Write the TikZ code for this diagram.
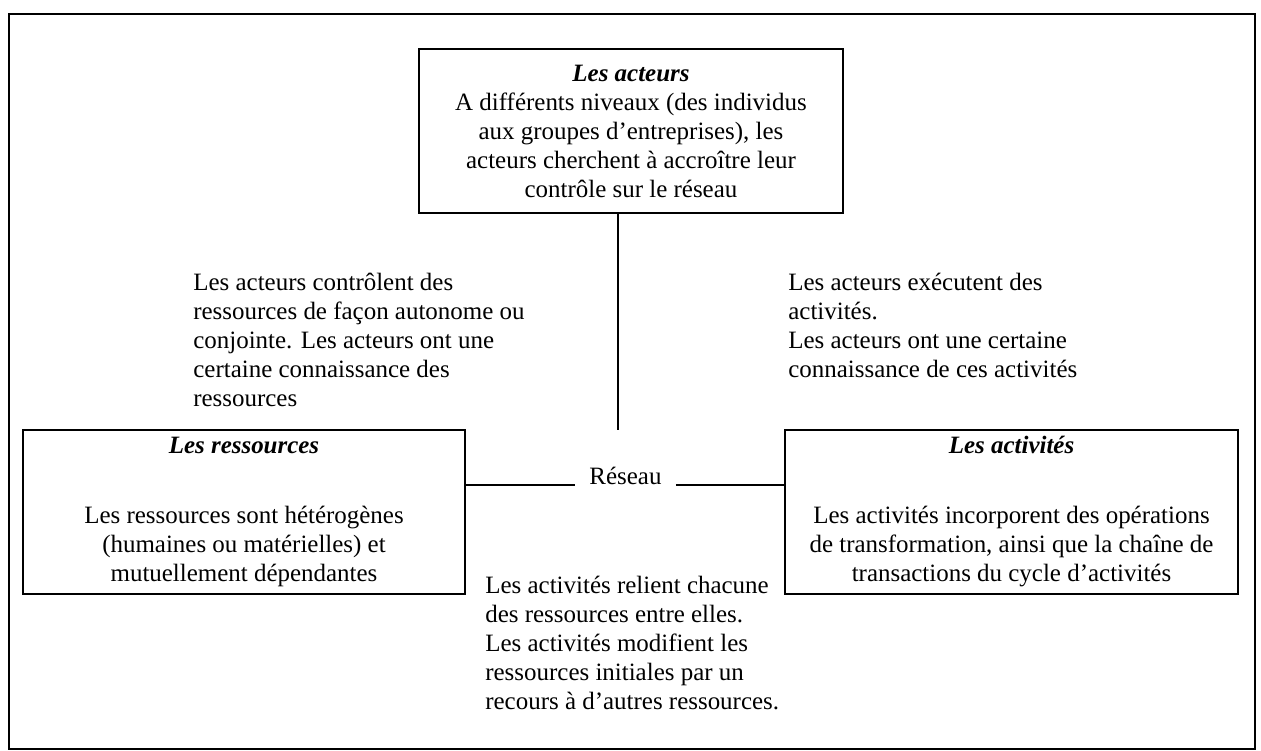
\documentclass[tikz,border=0pt]{standalone}
\usepackage{fontspec}
\setmainfont{Liberation Serif}
\usepackage{tikz}
\usetikzlibrary{calc,positioning}
\newcommand{\boxthick}{1.3pt}
\newcommand{\linethick}{1.1pt}
\newcommand{\txt}{\fontsize{14.2}{16.5}\selectfont}

\begin{document}
\begin{tikzpicture}[
        bloc/.style={draw, line width=\boxthick, align=center, inner sep=0pt, font=\txt},
        note/.style={align=left, inner sep=0pt, font=\txt}
    ]
    \useasboundingbox (0,0) rectangle (25.22,15.02);

    %Cadre
    \draw[line width=\boxthick] (0.174,0.04) rectangle (25.10,14.74);

    %Blocs
    \node[bloc, minimum width=8.48cm, minimum height=3.28cm] (acteurs) at (12.62,12.40)
        {\textbf{\textit{Les acteurs}}\\ A différents niveaux (des individus\\ aux groupes d’entreprises), les\\ acteurs cherchent à accroître leur\\ contrôle sur le réseau};
    \node[bloc, minimum width=8.84cm, minimum height=3.28cm] (ressources) at (4.88,4.78)
        {\textbf{\textit{Les ressources}}\\[0.82cm] Les ressources sont hétérogènes\\ (humaines ou matérielles) et\\ mutuellement dépendantes};
    \node[bloc, minimum width=9.06cm, minimum height=3.28cm] (activites) at (20.23,4.78)
        {\textbf{\textit{Les activités}}\\[0.82cm] Les activités incorporent des opérations\\ de transformation, ainsi que la chaîne de\\ transactions du cycle d’activités};

    %Reseau
    \node[font=\txt, inner xsep=0.28cm, inner ysep=0pt, anchor=base] (reseau) at (12.51,5.32) {Réseau};
    \coordinate (noeud) at (12.36,6.42);
    \draw[line width=\linethick] (acteurs.south -| noeud) -- (noeud);
    \draw[line width=\linethick] (ressources.east |- reseau.base) -- (reseau.base west);
    \draw[line width=\linethick] (reseau.base east) -- (activites.west |- reseau.base);

    %Relations
    \node[note, anchor=west] (controle) at (3.86,8.22)
        {Les acteurs contrôlent des\\ ressources de façon autonome ou\\ conjointe. Les acteurs ont une\\ certaine connaissance des\\ ressources};
    \node[note, anchor=west] (execute) at (15.76,8.51)
        {Les acteurs exécutent des\\ activités.\\ Les acteurs ont une certaine\\ connaissance de ces activités};
    \node[note, anchor=west] (relie) at (9.70,2.16)
        {Les activités relient chacune\\ des ressources entre elles.\\ Les activités modifient les\\ ressources initiales par un\\ recours à d’autres ressources.};
\end{tikzpicture}
\end{document}
